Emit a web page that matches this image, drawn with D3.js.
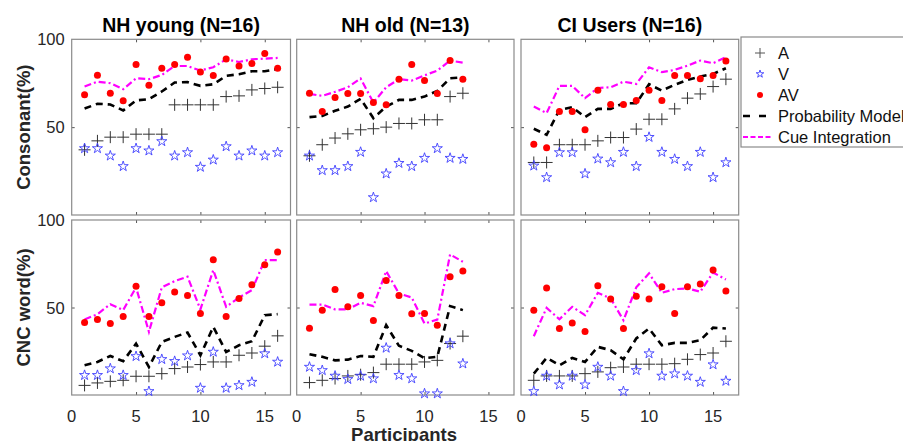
<!DOCTYPE html>
<html>
<head>
<meta charset="utf-8">
<script src="https://cdn.jsdelivr.net/npm/d3@7"></script>
<style>
  body { margin: 0; background: #fff; }
  svg { display: block; font-family: Arial, "Liberation Sans", sans-serif; }
</style>
</head>
<body>
<div class="chart"></div>
<script>
// values, one array per series
const nhYoungConsA    = [37.1, 42.2, 44.3, 44.3, 46.0, 46.0, 46.0, 62.7, 62.7, 62.7, 62.7, 67.4, 67.8, 71.2, 72.0, 72.7];
const nhYoungConsV    = [37.9, 37.9, 33.7, 27.7, 37.9, 36.6, 41.9, 33.7, 35.6, 27.3, 31.4, 39.0, 33.7, 36.6, 33.7, 35.6];
const nhYoungConsAV   = [68.4, 79.5, 69.3, 65.0, 85.6, 73.9, 83.5, 85.6, 89.8, 81.4, 79.4, 88.8, 84.8, 86.2, 91.9, 83.5];
const nhYoungConsProb = [60.6, 63.3, 62.9, 59.5, 65.2, 65.9, 70.3, 75.4, 75.6, 73.5, 74.4, 79.2, 80.1, 81.8, 81.8, 83.1];
const nhYoungConsCue  = [73.1, 75.9, 75.0, 71.6, 77.8, 77.3, 79.7, 84.8, 84.8, 82.2, 84.1, 88.6, 87.1, 88.6, 89.0, 89.4];

const nhOldConsA    = [33.7, 40.0, 43.8, 46.2, 48.5, 49.1, 50.0, 52.1, 52.1, 54.2, 54.2, 67.4, 69.3];
const nhOldConsV    = [33.7, 25.4, 25.4, 27.7, 35.8, 10.0, 23.5, 29.5, 27.7, 32.4, 37.9, 32.4, 31.8];
const nhOldConsAV   = [69.3, 58.9, 66.9, 69.1, 69.1, 64.0, 62.7, 77.3, 85.6, 76.5, 69.1, 87.9, 77.3];
const nhOldConsProb = [55.7, 56.4, 59.3, 61.7, 66.1, 55.1, 61.7, 65.5, 65.5, 67.4, 70.6, 77.8, 78.4];
const nhOldConsCue  = [68.9, 67.8, 70.1, 72.7, 77.7, 64.0, 72.7, 77.3, 76.5, 79.5, 82.2, 87.9, 86.7];

const ciConsA    = [29.9, 29.9, 40.0, 40.0, 40.0, 42.2, 44.1, 44.1, 48.9, 54.5, 54.5, 60.4, 66.5, 68.9, 73.1, 77.3];
const ciConsV    = [28.0, 21.4, 35.6, 35.6, 23.5, 32.0, 29.9, 35.8, 27.7, 44.3, 35.8, 31.8, 27.7, 35.8, 21.4, 29.9];
const ciConsAV   = [40.2, 38.3, 58.9, 58.9, 48.5, 71.0, 62.9, 62.9, 65.2, 71.0, 65.2, 79.4, 79.4, 77.5, 79.4, 87.7];
const ciConsProb = [49.1, 45.6, 59.8, 61.4, 55.7, 60.4, 60.4, 63.6, 63.6, 74.4, 70.8, 74.1, 76.9, 78.8, 80.3, 83.5];
const ciConsCue  = [61.7, 58.0, 73.5, 73.5, 66.5, 72.3, 72.7, 75.9, 74.6, 84.1, 81.3, 82.6, 85.0, 87.9, 86.4, 89.8];

const nhYoungWordA    = [5.5, 6.9, 7.8, 8.4, 10.7, 10.7, 12.2, 15.1, 16.0, 17.4, 18.9, 18.9, 22.7, 24.0, 27.9, 33.8];
const nhYoungWordV    = [11.3, 11.3, 15.1, 11.3, 22.1, 2.1, 20.4, 19.3, 22.5, 4.0, 24.6, 4.0, 5.5, 7.4, 23.7, 18.9];
const nhYoungWordAV   = [41.4, 43.1, 40.8, 44.8, 62.2, 44.8, 52.7, 58.8, 56.9, 46.6, 77.3, 44.8, 55.2, 63.0, 74.4, 81.7];
const nhYoungWordProb = [17.0, 18.9, 22.3, 19.3, 29.4, 16.0, 30.3, 33.2, 35.7, 22.7, 38.9, 24.6, 28.4, 30.7, 45.6, 46.2];
const nhYoungWordCue  = [43.1, 46.2, 51.9, 48.5, 61.5, 36.1, 61.5, 65.1, 67.6, 48.9, 71.4, 50.4, 55.7, 59.9, 77.1, 77.1];

const nhOldWordA    = [7.1, 8.4, 9.4, 10.9, 11.6, 12.8, 17.6, 17.6, 17.6, 18.9, 19.8, 29.4, 33.6];
const nhOldWordV    = [16.0, 14.1, 10.9, 9.0, 10.9, 9.4, 26.9, 11.3, 9.4, 0.8, 0.8, 29.4, 17.9];
const nhOldWordAV   = [38.2, 48.5, 60.3, 50.4, 56.9, 42.6, 65.5, 56.9, 46.4, 46.6, 39.9, 67.6, 70.8];
const nhOldWordProb = [23.3, 21.8, 19.8, 20.2, 22.3, 21.8, 39.9, 28.1, 25.2, 21.0, 21.8, 50.8, 48.5];
const nhOldWordCue  = [51.7, 51.7, 48.9, 48.9, 52.7, 50.8, 70.8, 58.0, 55.7, 40.8, 43.1, 80.3, 76.1];

const ciWordA    = [8.4, 10.9, 10.9, 10.9, 12.2, 13.2, 15.6, 16.0, 17.6, 17.6, 17.6, 17.9, 20.4, 23.1, 24.0, 30.7];
const ciWordV    = [2.1, 10.9, 5.9, 10.9, 5.9, 16.0, 10.9, 2.1, 14.1, 23.7, 10.9, 12.2, 10.9, 7.4, 17.4, 8.0];
const ciWordAV   = [48.5, 61.1, 38.0, 41.2, 36.3, 62.4, 54.8, 38.0, 56.5, 54.8, 61.8, 46.6, 61.8, 63.5, 71.4, 59.4];
const ciWordProb = [12.2, 21.2, 17.0, 21.2, 18.9, 27.5, 25.6, 20.4, 32.3, 38.0, 28.4, 29.8, 29.8, 31.3, 38.5, 38.0];
const ciWordCue  = [33.6, 49.8, 43.3, 50.4, 45.6, 58.4, 55.2, 42.7, 61.5, 69.5, 58.4, 60.5, 60.9, 59.0, 70.0, 66.0];

const groupTitles = ['NH young (N=16)', 'NH old (N=13)', 'CI Users (N=16)'];
const rowLabels = ['Consonant(%)', 'CNC word(%)'];
const xTickValues = [0, 5, 10, 15];
const yTickValues = [50, 100];
const legendLabels = ['A', 'V', 'AV', 'Probability Model', 'Cue Integration'];

const panels = [
  { row: 0, col: 0, A: nhYoungConsA, V: nhYoungConsV, AV: nhYoungConsAV, prob: nhYoungConsProb, cue: nhYoungConsCue },
  { row: 0, col: 1, A: nhOldConsA, V: nhOldConsV, AV: nhOldConsAV, prob: nhOldConsProb, cue: nhOldConsCue },
  { row: 0, col: 2, A: ciConsA, V: ciConsV, AV: ciConsAV, prob: ciConsProb, cue: ciConsCue },
  { row: 1, col: 0, A: nhYoungWordA, V: nhYoungWordV, AV: nhYoungWordAV, prob: nhYoungWordProb, cue: nhYoungWordCue },
  { row: 1, col: 1, A: nhOldWordA, V: nhOldWordV, AV: nhOldWordAV, prob: nhOldWordProb, cue: nhOldWordCue },
  { row: 1, col: 2, A: ciWordA, V: ciWordV, AV: ciWordAV, prob: ciWordProb, cue: ciWordCue }
];

const w = 903;
const h = 441;
const colX = [[71.7, 290.5], [296.7, 514], [521, 738.7]];
const rowY = [[215, 39.3], [395, 220]];
const boxColor = '#8a8a8a';
const probDash = '7,5';
const cueDash = '7,3,2,3';

const svg = d3.select('.chart')
  .append('svg')
  .attr('width', w)
  .attr('height', h);

const starPath = d3.symbol().type(d3.symbolStar).size(32)();
const plusPath = 'M-6,0H6M0,-6V6';

panels.forEach((p) => {
  const x = d3.scaleLinear().domain([0, 17]).range(colX[p.col]);
  const y = d3.scaleLinear().domain([0, 100]).range(rowY[p.row]);
  const g = svg.append('g');
  const idx = d3.range(p.A.length);

  // inner ticks like the original figure
  g.append('g')
    .attr('transform', `translate(0, ${y(0)})`)
    .call(d3.axisTop(x).tickValues(xTickValues.slice(1)).tickSize(3).tickFormat(''))
    .call((a) => a.select('.domain').remove());
  g.append('g')
    .attr('transform', `translate(0, ${y(100)})`)
    .call(d3.axisBottom(x).tickValues(xTickValues.slice(1)).tickSize(3).tickFormat(''))
    .call((a) => a.select('.domain').remove());
  g.append('g')
    .attr('transform', `translate(${x(0)}, 0)`)
    .call(d3.axisRight(y).tickValues([50]).tickSize(3).tickFormat(''))
    .call((a) => a.select('.domain').remove());
  g.append('g')
    .attr('transform', `translate(${x(17)}, 0)`)
    .call(d3.axisLeft(y).tickValues([50]).tickSize(3).tickFormat(''))
    .call((a) => a.select('.domain').remove());
  g.selectAll('.tick line').attr('stroke', '#555');

  g.append('rect')
    .attr('x', x(0))
    .attr('y', y(100))
    .attr('width', x(17) - x(0))
    .attr('height', y(0) - y(100))
    .attr('fill', 'none')
    .attr('stroke', boxColor)
    .attr('stroke-width', 1.2);

  if (p.col === 0) {
    g.selectAll('.ylab')
      .data(yTickValues)
      .join('text')
      .attr('x', x(0) - 7)
      .attr('y', (d) => y(d) + 6)
      .attr('text-anchor', 'end')
      .attr('font-size', 16.5)
      .attr('fill', '#262626')
      .text((d) => d);
  }
  if (p.row === 1) {
    g.selectAll('.xlab')
      .data(xTickValues)
      .join('text')
      .attr('x', (d) => x(d))
      .attr('y', y(0) + 26.5)
      .attr('text-anchor', 'middle')
      .attr('font-size', 16.5)
      .attr('fill', '#262626')
      .text((d) => d);
  }

  const line = (arr) => d3.line()
    .x((i) => x(i + 1))
    .y((i) => y(arr[i]))(idx);

  g.append('path')
    .attr('d', line(p.prob))
    .attr('fill', 'none')
    .attr('stroke', '#000')
    .attr('stroke-width', 2.6)
    .attr('stroke-dasharray', probDash);

  g.append('path')
    .attr('d', line(p.cue))
    .attr('fill', 'none')
    .attr('stroke', '#ff00ff')
    .attr('stroke-width', 2.2)
    .attr('stroke-dasharray', cueDash);

  g.selectAll('.a')
    .data(idx)
    .join('path')
    .attr('transform', (i) => `translate(${x(i + 1)}, ${y(p.A[i])})`)
    .attr('d', plusPath)
    .attr('stroke', '#333')
    .attr('stroke-width', 1);

  g.selectAll('.v')
    .data(idx)
    .join('path')
    .attr('transform', (i) => `translate(${x(i + 1)}, ${y(p.V[i])})`)
    .attr('d', starPath)
    .attr('fill', 'none')
    .attr('stroke', '#4040ff')
    .attr('stroke-width', 0.9);

  g.selectAll('.av')
    .data(idx)
    .join('circle')
    .attr('cx', (i) => x(i + 1))
    .attr('cy', (i) => y(p.AV[i]))
    .attr('r', 3.5)
    .attr('fill', '#ff0000');
});

// titles
groupTitles.forEach((t, i) => {
  svg.append('text')
    .attr('x', (colX[i][0] + colX[i][1]) / 2)
    .attr('y', 32)
    .attr('text-anchor', 'middle')
    .attr('font-weight', 'bold')
    .attr('font-size', 19.5)
    .text(t);
});

// axis titles
rowLabels.forEach((t, i) => {
  const cy = (rowY[i][0] + rowY[i][1]) / 2;
  svg.append('text')
    .attr('transform', `translate(29.5, ${cy}) rotate(-90)`)
    .attr('text-anchor', 'middle')
    .attr('font-weight', 'bold')
    .attr('font-size', 18.5)
    .attr('fill', '#262626')
    .text(t);
});

svg.append('text')
  .attr('x', 404)
  .attr('y', 440.5)
  .attr('text-anchor', 'middle')
  .attr('font-weight', 'bold')
  .attr('font-size', 18.5)
  .attr('fill', '#262626')
  .text('Participants');

// legend
const lg = svg.append('g');
lg.append('rect')
  .attr('x', 741)
  .attr('y', 37)
  .attr('width', 200)
  .attr('height', 110)
  .attr('fill', '#fff')
  .attr('stroke', boxColor)
  .attr('stroke-width', 1.2);

const legendY = d3.scalePoint().domain(legendLabels).range([53, 137]);
legendLabels.forEach((label) => {
  const ly = legendY(label);
  const sx = 760;
  if (label === 'A') {
    lg.append('path').attr('transform', `translate(${sx}, ${ly})`).attr('d', 'M-5,0H5M0,-5V5')
      .attr('stroke', '#555').attr('stroke-width', 1);
  } else if (label === 'V') {
    lg.append('path').attr('transform', `translate(${sx}, ${ly})`)
      .attr('d', d3.symbol().type(d3.symbolStar).size(18)())
      .attr('fill', 'none').attr('stroke', '#4040ff').attr('stroke-width', 0.9);
  } else if (label === 'AV') {
    lg.append('circle').attr('cx', sx).attr('cy', ly).attr('r', 3).attr('fill', '#ff0000');
  } else if (label === 'Probability Model') {
    lg.append('line').attr('x1', 743).attr('x2', 773).attr('y1', ly).attr('y2', ly)
      .attr('stroke', '#000').attr('stroke-width', 2.6).attr('stroke-dasharray', '7,9');
  } else {
    lg.append('line').attr('x1', 743).attr('x2', 773).attr('y1', ly).attr('y2', ly)
      .attr('stroke', '#ff00ff').attr('stroke-width', 2.2).attr('stroke-dasharray', '5,2.5');
  }
  lg.append('text')
    .attr('x', 778)
    .attr('y', ly + 6)
    .attr('font-size', 16.5)
    .attr('fill', '#111')
    .text(label);
});
</script>
</body>
</html>
